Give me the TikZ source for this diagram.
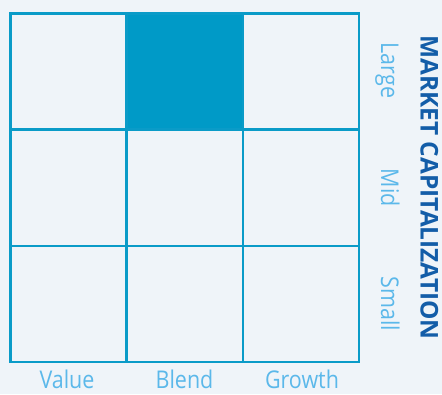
\documentclass[tikz,border=0pt]{standalone}
\usepackage{fontspec}
\setmainfont{Open Sans}
\definecolor{bgc}{HTML}{EFF4F9}
\definecolor{gridc}{HTML}{0A9BC8}
\definecolor{fillc}{HTML}{009AC7}
\definecolor{labc}{HTML}{5BB8EA}
\definecolor{titc}{HTML}{135DA8}
\newcommand{\narrow}[1]{\scalebox{0.88}[1]{#1}}
\begin{document}
\begin{tikzpicture}[x=1bp,y=-1bp,
  cell/.style={draw=gridc,line width=2.6bp,minimum size=116.2bp,inner sep=0pt,outer sep=0pt},
  lab/.style={text=labc,font=\fontsize{24.5}{24.5}\selectfont,inner sep=0pt},
  tit/.style={text=titc,font=\fontsize{24.5}{24.5}\selectfont\bfseries,inner sep=0pt}]
\fill[bgc] (0,0) rectangle (442,394);
\useasboundingbox (0,0) rectangle (442,394);
\foreach \c in {0,1,2}{
  \foreach \r in {0,1,2}{
    \node[cell] (c\c\r) at ({10.5+116.2*(\c+0.5)},{13.5+116.2*(\r+0.5)}) {};
  }
}
\node[cell,fill=fillc] (c10) at ({10.5+116.2*1.5},{13.5+116.2*0.5}) {};
\node[lab,anchor=base] (v) at (67,388) {\narrow{Value}};
\node[lab,anchor=base] (b) at (184.5,388) {\narrow{Blend}};
\node[lab,anchor=base] (g) at (302,388) {\narrow{Growth}};
\node[lab,rotate=-90,anchor=base] (lg) at (381,70.5) {\narrow{Large}};
\node[lab,rotate=-90,anchor=base] (md) at (381,187.8) {\narrow{Mid}};
\node[lab,rotate=-90,anchor=base] (sm) at (381,304) {\narrow{Small}};
\node[tit,rotate=-90,anchor=base] (t) at (420.5,187.5) {MARKET CAPITALIZATION};
\end{tikzpicture}
\end{document}
